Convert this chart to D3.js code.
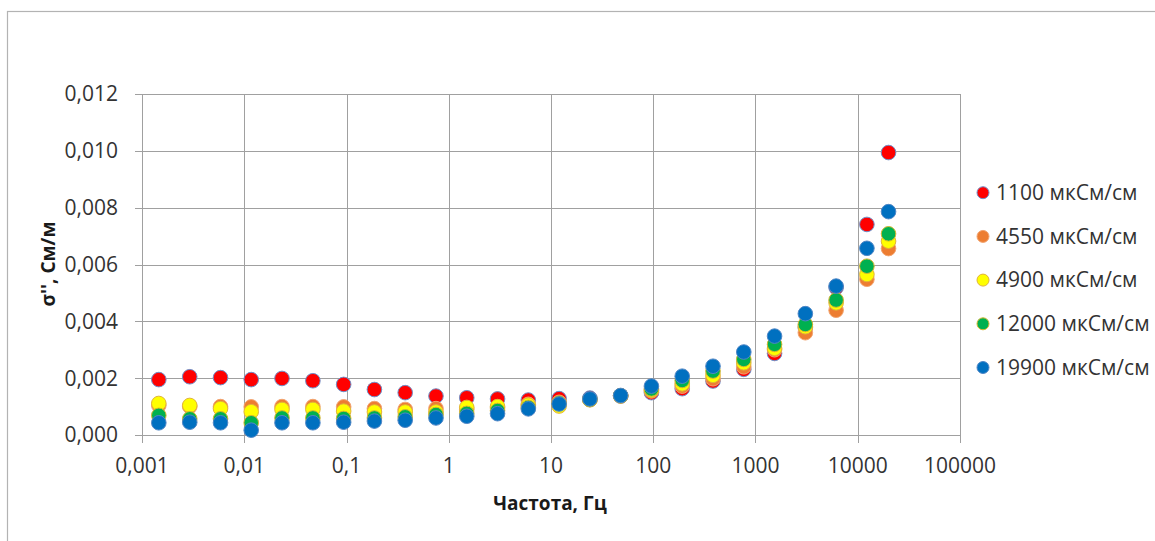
<!DOCTYPE html>
<html>
<head>
<meta charset="utf-8">
<script src="https://cdn.jsdelivr.net/npm/d3@7/dist/d3.min.js"></script>
<style>
  html, body { margin: 0; padding: 0; background: #fff; }
  svg { display: block; font-family: "Open Sans", "Noto Sans", sans-serif; }
</style>
</head>
<body>
<svg id="chart" width="1155" height="541"></svg>
<script>
// Frequencies, Hz
const frequencies = [0.00146, 0.00293, 0.00586, 0.0117, 0.0234, 0.0469, 0.0938, 0.1875, 0.375, 0.75,
  1.5, 3, 6, 12, 24, 48, 96, 192, 384, 768, 1536, 3072, 6144, 12288, 20000];

// Series labels
const seriesNames = ["1100 мкСм/см", "4550 мкСм/см", "4900 мкСм/см", "12000 мкСм/см", "19900 мкСм/см"];

// σ'' values, См/м
const s1100 = [0.00195, 0.00205, 0.00202, 0.00195, 0.00199, 0.00191, 0.00178, 0.00160, 0.00149, 0.00137,
  0.00131, 0.00127, 0.00123, 0.00128, 0.00130, 0.00137, 0.00149, 0.00163, 0.00190, 0.00231,
  0.00287, 0.00378, 0.00519, 0.00741, 0.00994];
const s4550 = [0.00104, 0.00100, 0.00100, 0.00099, 0.00100, 0.00100, 0.00099, 0.00093, 0.00090, 0.00093,
  0.00090, 0.00095, 0.00108, 0.00115, 0.00125, 0.00138, 0.00155, 0.00172, 0.00198, 0.00240,
  0.00300, 0.00360, 0.00439, 0.00548, 0.00656];
const s4900 = [0.00111, 0.00104, 0.00093, 0.00082, 0.00090, 0.00090, 0.00084, 0.00081, 0.00081, 0.00081,
  0.00097, 0.00100, 0.00105, 0.00102, 0.00124, 0.00138, 0.00158, 0.00180, 0.00210, 0.00254,
  0.00305, 0.00381, 0.00465, 0.00565, 0.00682];
const s12000 = [0.00069, 0.00057, 0.00057, 0.00043, 0.00060, 0.00060, 0.00058, 0.00060, 0.00064, 0.00072,
  0.00076, 0.00086, 0.00097, 0.00112, 0.00125, 0.00138, 0.00162, 0.00192, 0.00225, 0.00266,
  0.00319, 0.00389, 0.00475, 0.00594, 0.00708];
const s19900 = [0.00043, 0.00045, 0.00043, 0.00017, 0.00043, 0.00043, 0.00045, 0.00049, 0.00052, 0.00060,
  0.00066, 0.00075, 0.00092, 0.00109, 0.00127, 0.00139, 0.00172, 0.00207, 0.00242, 0.00292,
  0.00348, 0.00427, 0.00524, 0.00657, 0.00786];

const xTicks = [0.001, 0.01, 0.1, 1, 10, 100, 1000, 10000, 100000];
const xTickLabels = ["0,001", "0,01", "0,1", "1", "10", "100", "1000", "10000", "100000"];
const yTicks = [0, 0.002, 0.004, 0.006, 0.008, 0.010, 0.012];
const yTickLabels = ["0,000", "0,002", "0,004", "0,006", "0,008", "0,010", "0,012"];

const seriesValues = [s1100, s4550, s4900, s12000, s19900];
const fills = ["#ff0000", "#ed7d31", "#ffff00", "#00b050", "#0070c0"];
const strokes = ["#6f8fc8", "#f2a470", "#e0b43a", "#d6b62e", "#4f86c6"];

const svg = d3.select("#chart");
const plot = { left: 142, right: 960, top: 94, bottom: 435 };

const x = d3.scaleLog().domain([0.001, 100000]).range([plot.left, plot.right]);
const y = d3.scaleLinear().domain([0, 0.012]).range([plot.bottom, plot.top]);

// outer chart border
svg.append("rect")
  .attr("x", 7.5).attr("y", 11.5).attr("width", 1200).attr("height", 600)
  .attr("fill", "#fff").attr("stroke", "#b3b3b3").attr("stroke-width", 1.2);

const gridColor = "#a0a0a0";

// horizontal gridlines
svg.append("g").selectAll("line").data(yTicks).join("line")
  .attr("x1", plot.left - 7).attr("x2", plot.right)
  .attr("y1", d => Math.round(y(d)) + 0.5).attr("y2", d => Math.round(y(d)) + 0.5)
  .attr("stroke", gridColor).attr("stroke-width", 1);

// vertical gridlines
svg.append("g").selectAll("line").data(xTicks).join("line")
  .attr("y1", plot.top).attr("y2", plot.bottom + 8)
  .attr("x1", d => Math.round(x(d)) + 0.5).attr("x2", d => Math.round(x(d)) + 0.5)
  .attr("stroke", gridColor).attr("stroke-width", 1);

// y tick labels
svg.append("g").selectAll("text").data(yTicks).join("text")
  .attr("x", 118).attr("y", d => y(d))
  .attr("dy", "0.35em").attr("text-anchor", "end")
  .attr("font-size", 21).attr("fill", "#333")
  .text((d, i) => yTickLabels[i]);

// x tick labels
svg.append("g").selectAll("text").data(xTicks).join("text")
  .attr("x", d => x(d)).attr("y", 473)
  .attr("text-anchor", "middle")
  .attr("font-size", 21).attr("fill", "#333")
  .text((d, i) => xTickLabels[i]);

// axis titles
svg.append("text")
  .attr("x", 550).attr("y", 510).attr("text-anchor", "middle")
  .attr("font-size", 19).attr("font-weight", "bold").attr("fill", "#1a1a1a")
  .text("Частота, Гц");

svg.append("text")
  .attr("transform", "translate(55,264) rotate(-90)")
  .attr("text-anchor", "middle")
  .attr("font-size", 19).attr("font-weight", "bold").attr("fill", "#1a1a1a")
  .text("σ'', См/м");

// points
seriesValues.forEach((vals, si) => {
  svg.append("g").selectAll("circle").data(vals.map((v, i) => [frequencies[i], v])).join("circle")
    .attr("cx", d => x(d[0])).attr("cy", d => y(d[1]))
    .attr("r", 7.3)
    .attr("fill", fills[si])
    .attr("stroke", strokes[si]).attr("stroke-width", 1);
});

// legend
const legend = svg.append("g");
seriesNames.forEach((name, i) => {
  const cy = 192.7 + i * 43.7;
  legend.append("circle").attr("cx", 983).attr("cy", cy).attr("r", 6)
    .attr("fill", fills[i]).attr("stroke", strokes[i]).attr("stroke-width", 1);
  legend.append("text").attr("x", 996).attr("y", cy).attr("dy", "0.35em")
    .attr("font-size", 21).attr("fill", "#333").text(name);
});
</script>
</body>
</html>
